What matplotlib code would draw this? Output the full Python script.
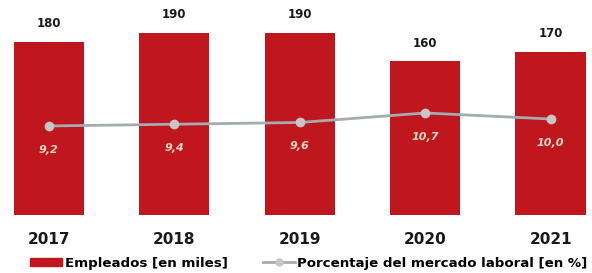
import matplotlib
matplotlib.use("Agg")
import matplotlib.pyplot as plt
from matplotlib.patches import Patch
from matplotlib.lines import Line2D

years = ["2017", "2018", "2019", "2020", "2021"]
empleados = [180, 190, 190, 160, 170]
porcentaje = [9.2, 9.4, 9.6, 10.7, 10.0]

plt.rcParams['font.family'] = ['DejaVu Sans']

W, H = 592, 273
fig = plt.figure(figsize=(W / 100, H / 100), dpi=100)
ax = fig.add_axes([0, (H - 215) / H, 1, 215 / H])
ax2 = ax.twinx()

x = list(range(len(years)))
red = "#C0161E"
ax.bar(x, empleados, width=0.56, color=red, zorder=1)
ax.set_xlim(-0.39, 4.33)
ax.set_ylim(0, 224)

for xi, v in zip(x, empleados):
    ax.annotate(str(v), (xi, v), xytext=(0, 8.5), textcoords="offset points",
                ha="center", va="bottom", fontsize=8.5, fontweight="bold", color="#1a1a1a")

ax2.plot(x, porcentaje, color="#A3ACB0", lw=2, marker="o", ms=6,
         markerfacecolor="#C9C6C4", markeredgecolor="#C9C6C4", zorder=3)
ax2.set_ylim(-1.07, 23.73)
for xi, v in zip(x, porcentaje):
    ax2.annotate(f"{v:.1f}".replace(".", ","), (xi, v), xytext=(0, -17),
                 textcoords="offset points", ha="center", va="center",
                 fontsize=8, fontweight="bold", fontstyle="italic", color="#F6D9C4")

for a in (ax, ax2):
    a.set_yticks([])
    for s in a.spines.values():
        s.set_visible(False)
ax.set_xticks([])

for xi, yr in zip(x, years):
    fig.text((49 + xi * 125.5) / W, 1 - 239 / H, yr, ha="center", va="center",
             fontsize=11, fontweight="bold", color="#1a1a1a")

handles = [Patch(facecolor=red, edgecolor=red),
           Line2D([0], [0], color="#A3ACB0", lw=2, marker="o", ms=5,
                  markerfacecolor="#C9C6C4", markeredgecolor="#C9C6C4")]
labels = ["Empleados [en miles]", "Porcentaje del mercado laboral [en %]"]
fig.legend(handles, labels, loc="center", bbox_to_anchor=(0.522, 1 - 263 / H), ncol=2,
           frameon=False, prop={"weight": "bold", "size": 9.6}, handlelength=2.4,
           handleheight=0.6, columnspacing=2.6, handletextpad=0.2, borderaxespad=0,
           borderpad=0)

fig.savefig("out.png", dpi=100)
